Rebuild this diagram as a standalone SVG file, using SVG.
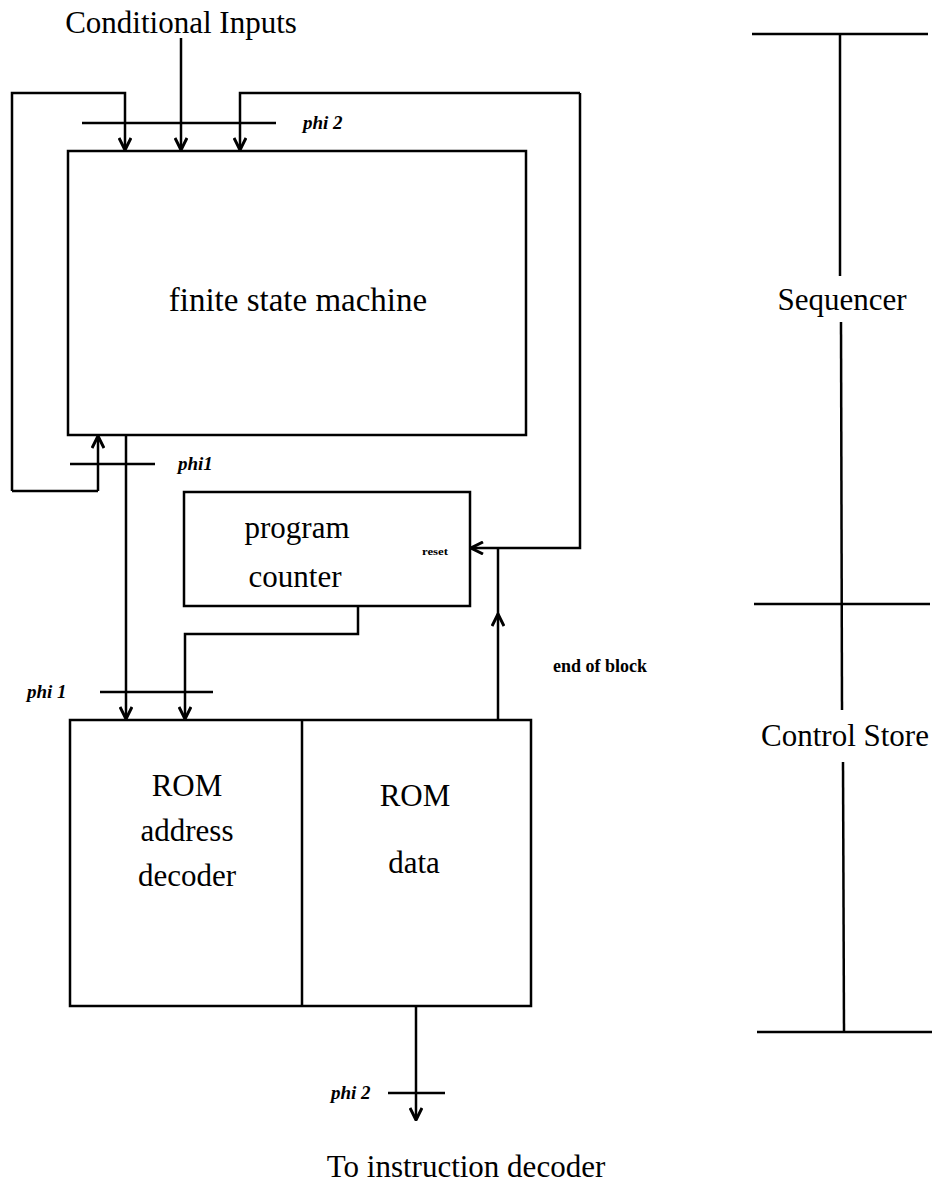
<svg xmlns="http://www.w3.org/2000/svg" width="935" height="1194" viewBox="0 0 935 1194">
<style>
.ln{fill:none;stroke:#000;stroke-width:2.5}
.box{fill:#fff;stroke:#000;stroke-width:2.5}
.t{font-family:"Liberation Serif",serif;font-size:31px;fill:#000}
.ph{font-family:"Liberation Serif",serif;font-size:19px;font-style:italic;font-weight:bold;fill:#000}
.sm{font-family:"Liberation Serif",serif;font-size:18px;font-weight:bold;fill:#000}
</style>
<defs>
<marker id="ah" viewBox="0 0 14 14" refX="13" refY="7" markerWidth="14" markerHeight="14" markerUnits="userSpaceOnUse" orient="auto">
<path d="M1,1 L13,7 L1,13" fill="none" stroke="#000" stroke-width="3"/>
</marker>
</defs>
<g id="title"><text class="t" x="181" y="33" text-anchor="middle">Conditional Inputs</text></g>
<g id="fsm">
<rect class="box" x="68" y="151" width="458" height="284"/>
<text class="t" x="298" y="311" text-anchor="middle" style="font-size:33px">finite state machine</text>
</g>
<g id="pc">
<rect class="box" x="184" y="492" width="286" height="114"/>
<text class="t" x="297" y="538" text-anchor="middle">program</text>
<text class="t" x="295" y="587" text-anchor="middle">counter</text>
<text x="422" y="555" font-family="Liberation Serif,serif" font-size="10" font-weight="bold" textLength="26" lengthAdjust="spacingAndGlyphs">reset</text>
</g>
<g id="rom">
<rect class="box" x="70" y="720" width="461" height="286"/>
<line class="ln" x1="302" y1="720" x2="302" y2="1006"/>
<text class="t" x="187" y="796" text-anchor="middle">ROM</text>
<text class="t" x="187" y="841" text-anchor="middle">address</text>
<text class="t" x="187" y="886" text-anchor="middle">decoder</text>
<text class="t" x="415" y="806" text-anchor="middle">ROM</text>
<text class="t" x="414" y="873" text-anchor="middle">data</text>
</g>
<g id="connectors">
<line class="ln" x1="181" y1="38" x2="181" y2="150" marker-end="url(#ah)"/>
<polyline class="ln" points="12,491 12,93 125,93 125,150" marker-end="url(#ah)"/>
<polyline class="ln" points="98,491 12,491"/>
<polyline class="ln" points="98,491 98,436" marker-end="url(#ah)"/>
<polyline class="ln" points="580,93 240,93 240,150" marker-end="url(#ah)"/>
<polyline class="ln" points="580,93 580,548 471,548" marker-end="url(#ah)"/>
<line class="ln" x1="126" y1="435" x2="126" y2="719" marker-end="url(#ah)"/>
<polyline class="ln" points="358,606 358,634 185,634 185,719" marker-end="url(#ah)"/>
<line class="ln" x1="498" y1="720" x2="498" y2="614" marker-end="url(#ah)"/>
<line class="ln" x1="498" y1="616" x2="498" y2="548"/>
<line class="ln" x1="416" y1="1006" x2="416" y2="1120" marker-end="url(#ah)"/>
</g>
<g id="clocks">
<line class="ln" x1="82" y1="123" x2="276" y2="123"/>
<text class="ph" x="303" y="129">phi 2</text>
<line class="ln" x1="70" y1="464" x2="155" y2="464"/>
<text class="ph" x="178" y="470">phi1</text>
<line class="ln" x1="100" y1="692" x2="213" y2="692"/>
<text class="ph" x="27" y="698">phi 1</text>
<line class="ln" x1="388" y1="1093" x2="445" y2="1093"/>
<text class="ph" x="331" y="1099">phi 2</text>
<text class="sm" x="553" y="672">end of block</text>
</g>
<g id="output"><text class="t" x="466" y="1177" text-anchor="middle">To instruction decoder</text></g>
<g id="scale">
<line class="ln" x1="752" y1="34" x2="928" y2="34"/>
<line class="ln" x1="840" y1="34" x2="840" y2="276"/>
<line class="ln" x1="841" y1="322" x2="842" y2="710"/>
<line class="ln" x1="843" y1="762" x2="844" y2="1032"/>
<line class="ln" x1="754" y1="604" x2="930" y2="604"/>
<line class="ln" x1="757" y1="1032" x2="932" y2="1032"/>
<text class="t" x="842" y="310" text-anchor="middle">Sequencer</text>
<text class="t" x="845" y="746" text-anchor="middle">Control Store</text>
</g>
</svg>
